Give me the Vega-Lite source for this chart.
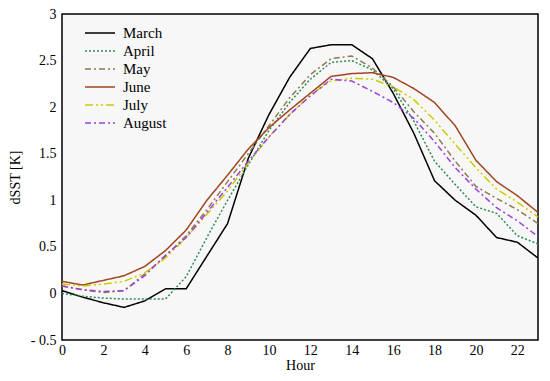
{
  "$schema": "https://vega.github.io/schema/vega-lite/v6.json",
  "autosize": {"type": "none"},
  "padding": {"left": 62, "top": 14, "right": 12, "bottom": 41},
  "width": 476,
  "height": 326,
  "config": {
    "font": "Liberation Serif",
    "view": {"stroke": "black", "strokeWidth": 1.5, "fill": "#f7f7f7"},
    "axis": {"domain": false, "ticks": false, "grid": false, "labelFlush": false, "labelFont": "Liberation Serif", "labelFontSize": 14, "labelColor": "black", "titleFont": "Liberation Serif", "titleFontSize": 14, "titleFontWeight": "normal", "titleColor": "black"}
  },
  "datasets": {
    "sst": [
      {"hour": 0, "March": 0.03, "April": 0.0, "May": 0.08, "June": 0.13, "July": 0.10, "August": 0.08},
      {"hour": 1, "March": -0.04, "April": -0.03, "May": 0.04, "June": 0.09, "July": 0.08, "August": 0.04},
      {"hour": 2, "March": -0.10, "April": -0.05, "May": 0.01, "June": 0.14, "July": 0.10, "August": 0.02},
      {"hour": 3, "March": -0.15, "April": -0.06, "May": 0.03, "June": 0.19, "July": 0.13, "August": 0.03},
      {"hour": 4, "March": -0.08, "April": -0.06, "May": 0.21, "June": 0.29, "July": 0.22, "August": 0.19},
      {"hour": 5, "March": 0.05, "April": -0.06, "May": 0.40, "June": 0.46, "July": 0.38, "August": 0.41},
      {"hour": 6, "March": 0.05, "April": 0.18, "May": 0.62, "June": 0.68, "July": 0.60, "August": 0.60},
      {"hour": 7, "March": 0.40, "April": 0.60, "May": 0.90, "June": 1.00, "July": 0.85, "August": 0.87},
      {"hour": 8, "March": 0.75, "April": 1.00, "May": 1.20, "June": 1.27, "July": 1.10, "August": 1.14},
      {"hour": 9, "March": 1.45, "April": 1.38, "May": 1.50, "June": 1.55, "July": 1.40, "August": 1.42},
      {"hour": 10, "March": 1.92, "April": 1.75, "May": 1.80, "June": 1.78, "July": 1.68, "August": 1.68},
      {"hour": 11, "March": 2.32, "April": 2.05, "May": 2.10, "June": 1.97, "July": 1.92, "August": 1.92},
      {"hour": 12, "March": 2.63, "April": 2.30, "May": 2.35, "June": 2.15, "July": 2.13, "August": 2.12},
      {"hour": 13, "March": 2.67, "April": 2.48, "May": 2.52, "June": 2.33, "July": 2.28, "August": 2.30},
      {"hour": 14, "March": 2.67, "April": 2.50, "May": 2.55, "June": 2.36, "July": 2.31, "August": 2.28},
      {"hour": 15, "March": 2.52, "April": 2.40, "May": 2.42, "June": 2.37, "July": 2.30, "August": 2.17},
      {"hour": 16, "March": 2.15, "April": 2.20, "May": 2.22, "June": 2.32, "July": 2.22, "August": 2.05},
      {"hour": 17, "March": 1.72, "April": 1.85, "May": 1.95, "June": 2.20, "July": 2.08, "August": 1.88},
      {"hour": 18, "March": 1.21, "April": 1.42, "May": 1.72, "June": 2.05, "July": 1.86, "August": 1.63},
      {"hour": 19, "March": 1.00, "April": 1.17, "May": 1.42, "June": 1.80, "July": 1.60, "August": 1.35},
      {"hour": 20, "March": 0.84, "April": 0.93, "May": 1.15, "June": 1.43, "July": 1.35, "August": 1.12},
      {"hour": 21, "March": 0.60, "April": 0.86, "May": 1.02, "June": 1.20, "July": 1.12, "August": 0.92},
      {"hour": 22, "March": 0.55, "April": 0.62, "May": 0.90, "June": 1.05, "July": 0.98, "August": 0.78},
      {"hour": 23, "March": 0.38, "April": 0.53, "May": 0.75, "June": 0.87, "July": 0.82, "August": 0.61}
    ]
  },
  "data": {"name": "sst"},
  "transform": [
    {"fold": ["March", "April", "May", "June", "July", "August"], "as": ["month", "value"]}
  ],
  "mark": {"type": "line", "strokeWidth": 1.5, "clip": true},
  "encoding": {
    "x": {"field": "hour", "type": "quantitative", "title": "Hour",
      "scale": {"domain": [0, 23], "nice": false},
      "axis": {"values": [0, 2, 4, 6, 8, 10, 12, 14, 16, 18, 20, 22], "labelPadding": 3, "titlePadding": 1}},
    "y": {"field": "value", "type": "quantitative", "title": "dSST [K]",
      "scale": {"domain": [-0.5, 3], "nice": false},
      "axis": {"values": [-0.5, 0, 0.5, 1, 1.5, 2, 2.5, 3], "labelExpr": "datum.value < 0 ? '- ' + format(-datum.value, '') : format(datum.value, '')", "labelPadding": 6, "titlePadding": 8}},
    "color": {"field": "month", "type": "nominal",
      "scale": {"domain": ["March", "April", "May", "June", "July", "August"],
        "range": ["#000000", "#2e8b57", "#8c7b50", "#a0461e", "#cccc00", "#a040e0"]},
      "legend": {"title": null, "orient": "none", "legendX": 22, "legendY": 11,
        "symbolType": "stroke", "symbolSize": 900, "symbolStrokeWidth": 1.5, "clipHeight": 16,
        "labelFont": "Liberation Serif", "labelFontSize": 15, "labelColor": "black", "labelOffset": 7}},
    "strokeDash": {"field": "month", "type": "nominal",
      "scale": {"domain": ["March", "April", "May", "June", "July", "August"],
        "range": [[1, 0], [2, 2], [6, 3, 2, 3], [1, 0], [8, 3, 2, 3, 2, 3], [6, 3, 2, 3]]},
      "legend": {"title": null, "orient": "none", "legendX": 22, "legendY": 11,
        "symbolType": "stroke", "symbolSize": 900, "symbolStrokeWidth": 1.5, "clipHeight": 16,
        "labelFont": "Liberation Serif", "labelFontSize": 15, "labelColor": "black", "labelOffset": 7}}
  }
}
